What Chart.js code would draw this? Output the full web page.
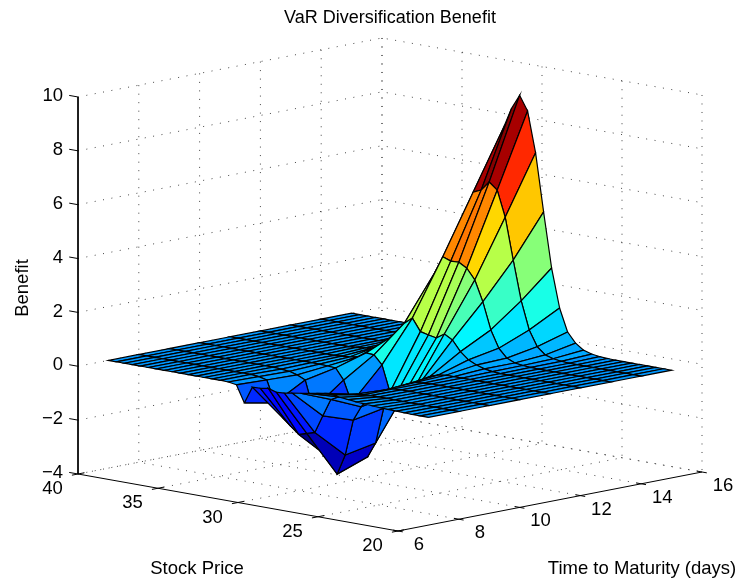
<!DOCTYPE html>
<html>
<head>
<meta charset="utf-8">
<style>
  html, body { margin: 0; padding: 0; background: #fff; }
  #box { width: 744px; height: 583px; }
</style>
<script src="https://cdn.jsdelivr.net/npm/chart.js@4"></script>
</head>
<body>
<div id="box"><canvas id="grafica"></canvas></div>
<script>
// ===============================
// DATA
// ===============================
const stockPrice = [20,20.5,21,21.5,22,22.5,23,23.5,24,24.5,25,25.5,26,26.5,27,27.5,28,28.5,29,29.5,30,30.5,31,31.5,32,32.5,33,33.5,34,34.5,35,35.5,36,36.5,37,37.5,38,38.5,39,39.5,40];
const maturity = [7,8,9,10,11,12,13,14,15];

// benefit per maturity, one value per stock price
const z07 = [0,0,0,.01,.02,.03,.04,.06,.08,.1,.13,.16,.2,.2,.15,.1,.05,0,-.05,-.07,.02,-.03,-.04,-.68,-.06,-.01,0,0,0,0,0,0,0,0,0,0,0,0,0,0,0];
const z08 = [0,0,0,0,0,0,0,0,.01,.01,.01,.01,-.02,-.05,-.12,-.25,-.4,-1.06,-1.73,-1.82,-1.91,-1.66,-1.4,-.9,-.1,-.03,0,0,0,0,0,0,0,0,0,0,0,0,0,0,0];
const z09 = [0,0,0,0,0,0,0,0,0,0,0,0,-.02,-.1,-.25,-.5,-.89,-1.44,-2.79,-3.55,-3,-2.4,-1.3,-.27,-.13,-.05,-.02,0,0,0,0,0,0,0,0,0,0,0,0,0,0];
const z10 = [0,0,0,0,0,0,0,0,0,0,0,0,-.02,-.05,-.15,-.35,-.7,-1.22,-2.56,-3.13,-2.5,-1.23,-.44,-.04,-.02,0,0,0,0,0,0,0,0,0,0,0,0,0,0,0,0];
const z11 = [0,0,0,0,0,0,0,0,0,0,0,0,0,0,-.05,-.15,-.35,-.7,-.84,-.9,-1,-.04,.28,.3,.1,.05,.02,0,0,0,0,0,0,0,0,0,0,0,0,0,0];
const z12 = [0,0,0,0,0,0,0,0,0,0,0,.02,.07,.16,.3,.55,.93,1.1,.9,.96,1.03,1.48,1.24,.8,.5,.25,.1,.05,.02,0,0,0,0,0,0,0,0,0,0,0,0];
const z13 = [0,0,0,0,0,0,0,0,0,0,.01,.03,.07,.2,.51,1.14,2.13,2.89,3.27,3.44,3.43,3.54,2.9,2,1.1,.5,.2,.08,.03,0,0,0,0,0,0,0,0,0,0,0,0];
const z14 = [0,0,0,0,0,0,0,0,0,0,.02,.06,.15,.4,.97,2,3.46,5,5.95,6.2,5.85,5.72,4.5,3,1.7,.8,.35,.15,.05,.02,0,0,0,0,0,0,0,0,0,0,0];
const z15 = [0,0,0,0,0,0,0,0,.01,.03,.07,.16,.37,.73,1.57,3,5.03,7.17,8.67,9.2,8.67,7.9,5.5,3.5,1.8,.8,.35,.15,.07,.02,0,0,0,0,0,0,0,0,0,0,0];
const benefit = [z07, z08, z09, z10, z11, z12, z13, z14, z15];

const stockTicks = [40,35,30,25,20];
const maturityTicks = [6,8,10,12,14,16];
const benefitTicks = [10,8,6,4,2,0,-2,-4];

// ===============================
// VISTA 3D (ortográfica)
// ===============================
function proyectar(s, t, z) {
    return {
        x: 78 + (40 - s) * 16 + (t - 6) * 30.4,
        y: 474 + (40 - s) * 2.85 - (t - 6) * 5.9 - (z + 4) * 26.93
    };
}

// jet de MATLAB, 64 niveles
function jet(z) {
    const f = (Math.floor(Math.min(0.9999, (z + 3.55) / 12.75) * 64) + 0.5) / 64;
    const c = v => Math.round(255 * Math.max(0, Math.min(1, v)));
    return `rgb(${c(1.5 - Math.abs(4 * f - 3))},${c(1.5 - Math.abs(4 * f - 2))},${c(1.5 - Math.abs(4 * f - 1))})`;
}

const datasets = [];

function linea(puntos, estilo) {
    datasets.push(Object.assign({
        data: puntos, showLine: true, pointRadius: 0, borderColor: "#000", borderWidth: 1.2, fill: false
    }, estilo));
}

// ===============================
// REJILLA PUNTEADA
// ===============================
const punteada = { borderColor: "#444", borderWidth: 1, borderDash: [1, 7.5] };

benefitTicks.forEach(z => {
    linea([proyectar(40, 6, z), proyectar(40, 16, z), proyectar(20, 16, z)], punteada);
});
// los tramos que caen sobre los ejes sólidos no se repiten
maturityTicks.filter(t => t !== 6).forEach(t => {
    linea([proyectar(40, t, 10), proyectar(40, t, -4), proyectar(20, t, -4)], punteada);
});
stockTicks.forEach(s => {
    const puntos = [proyectar(s, 16, 10), proyectar(s, 16, -4)];
    if (s !== 20) puntos.push(proyectar(s, 6, -4));
    linea(puntos, punteada);
});

// ===============================
// EJES
// ===============================
linea([proyectar(40, 6, 10), proyectar(40, 6, -4), proyectar(20, 6, -4), proyectar(20, 16, -4)], { borderWidth: 1 });
benefitTicks.forEach(z => {
    linea([proyectar(40, 6, z), proyectar(40.55, 6, z)], { borderWidth: 1 });
});
stockTicks.forEach(s => {
    linea([proyectar(s, 6.2, -4), proyectar(s, 5.8, -4)], { borderWidth: 1 });
});
maturityTicks.forEach(t => {
    linea([proyectar(20.3, t, -4), proyectar(19.7, t, -4)], { borderWidth: 1 });
});

// ===============================
// SUPERFICIE: del fondo hacia el frente
// ===============================
for (let j = stockPrice.length - 2; j >= 0; j--) {
    for (let i = maturity.length - 2; i >= 0; i--) {
        const s0 = stockPrice[j], s1 = stockPrice[j + 1];
        const t0 = maturity[i], t1 = maturity[i + 1];
        linea([
            proyectar(s0, t0, benefit[i][j]),
            proyectar(s1, t0, benefit[i][j + 1]),
            proyectar(s1, t1, benefit[i + 1][j + 1]),
            proyectar(s0, t1, benefit[i + 1][j]),
            proyectar(s0, t0, benefit[i][j])
        ], { fill: "shape", backgroundColor: jet(benefit[i + 1][j]) });
    }
}

// ===============================
// TEXTOS DE LOS EJES
// ===============================
const fuente = "18.5px 'Liberation Sans', Arial, sans-serif";
const textos = {
    id: "textos",
    afterDraw(chart) {
        const ctx = chart.ctx;
        ctx.save();
        ctx.font = fuente;
        ctx.fillStyle = "#000";
        ctx.textBaseline = "middle";
        ctx.textAlign = "right";
        benefitTicks.forEach(z => {
            const p = proyectar(40, 6, z);
            ctx.fillText(String(z).replace("-", "\u2212"), p.x - 15, p.y - 1);
        });
        ctx.textAlign = "center";
        stockTicks.forEach(s => {
            const p = proyectar(s, 6, -4);
            ctx.fillText(String(s), p.x - 25.5, p.y + 15);
        });
        maturityTicks.forEach(t => {
            const p = proyectar(20, t, -4);
            ctx.fillText(String(t), p.x + 21, p.y + 14);
        });
        ctx.fillText("Stock Price", 197, 569);
        ctx.fillText("Time to Maturity (days)", 642, 569);
        ctx.translate(23, 288);
        ctx.rotate(-Math.PI / 2);
        ctx.fillText("Benefit", 0, 0);
        ctx.restore();
    }
};

// ===============================
// GRÁFICA
// ===============================
new Chart(document.getElementById("grafica"), {
    type: "scatter",
    data: { datasets: datasets.reverse() },
    plugins: [textos],
    options: {
        responsive: true,
        maintainAspectRatio: false,
        animation: false,
        events: [],
        layout: { padding: { left: 36 } },
        plugins: {
            legend: { display: false },
            tooltip: { enabled: false },
            title: {
                display: true,
                text: "VaR Diversification Benefit",
                color: "#000",
                font: { family: "'Liberation Sans', Arial, sans-serif", size: 18, weight: "normal", lineHeight: "20px" },
                padding: { top: 8, bottom: 2 }
            }
        },
        scales: {
            x: { type: "linear", display: false, min: 36, max: 744 },
            y: { type: "linear", display: false, min: 30, max: 583, reverse: true }
        }
    }
});
</script>
</body>
</html>
